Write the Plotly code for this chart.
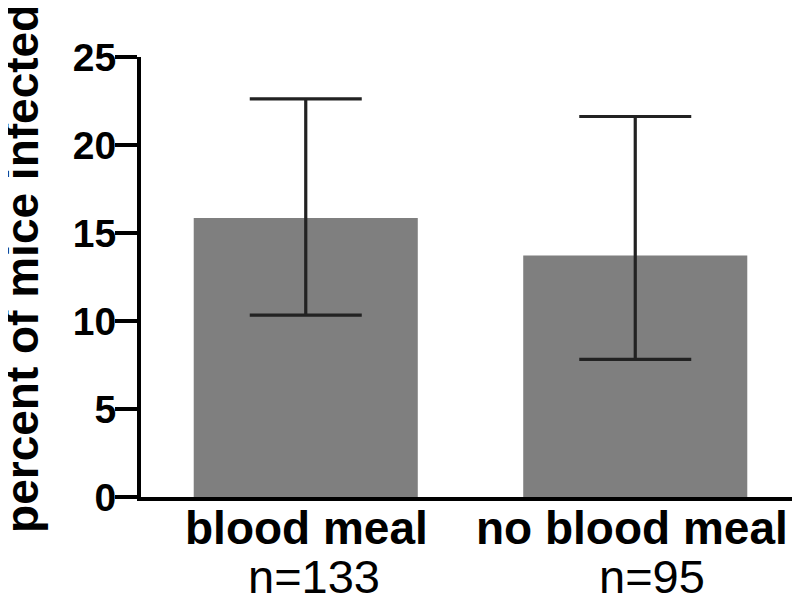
import plotly.graph_objects as go

categories = ["blood meal", "no blood meal"]
n_labels = ["n=133", "n=95"]
percent_infected = [15.85, 13.72]
ci_upper = [22.62, 21.62]
ci_lower = [10.33, 7.82]
y_ticks = [0, 5, 10, 15, 20, 25]

err_plus = [u - v for u, v in zip(ci_upper, percent_infected)]
err_minus = [v - l for v, l in zip(percent_infected, ci_lower)]

FONT = "Liberation Sans, Arial, Helvetica, sans-serif"

fig = go.Figure()
fig.add_trace(go.Bar(
    x=categories,
    y=percent_infected,
    width=0.68,
    marker=dict(color="#7f7f7f", line=dict(width=0)),
    error_y=dict(
        type="data",
        symmetric=False,
        array=err_plus,
        arrayminus=err_minus,
        color="#222222",
        thickness=3.2,
        width=56,
    ),
    showlegend=False,
))

# category names (bold) and sample sizes below the x axis
for cat, xs in zip(categories, [1, -3]):
    fig.add_annotation(
        x=cat, xref="x", y=0, yref="y",
        text="<b>" + cat + "</b>", showarrow=False,
        yanchor="top", xanchor="center",
        yshift=-3, xshift=xs,
        font=dict(family=FONT, size=46, color="black"),
    )
for lab, cat, xs in zip(n_labels, categories, [8, 17]):
    fig.add_annotation(
        x=cat, xref="x", y=0, yref="y",
        text=lab, showarrow=False,
        yanchor="top", xanchor="center",
        yshift=-51, xshift=xs,
        font=dict(family=FONT, size=47, color="black"),
    )

fig.add_annotation(
    x=-0.181, xref="paper", y=0.52, yref="paper",
    text="<b>percent of mice infected</b>", textangle=-90,
    showarrow=False, xanchor="center", yanchor="middle",
    font=dict(family=FONT, size=46, color="black"),
)

fig.update_layout(
    width=800, height=603,
    margin=dict(l=133, r=8, t=49, b=114, pad=0, autoexpand=False),
    paper_bgcolor="white", plot_bgcolor="white",
    font=dict(family=FONT, color="black"),
)
fig.update_xaxes(
    type="category",
    range=[-0.5, 1.5],
    showline=True, linecolor="black", linewidth=4,
    ticks="", showgrid=False, zeroline=False,
    showticklabels=False, automargin=False,
)
fig.update_yaxes(
    range=[0, 25],
    tickvals=y_ticks,
    showline=True, linecolor="black", linewidth=4,
    ticks="outside", ticklen=22, tickwidth=4, tickcolor="black",
    showgrid=False, zeroline=False, automargin=False,
    tickfont=dict(family=FONT, size=39, color="black", weight="bold"),
    ticklabelstandoff=-9,
)

fig.write_html("out.html")
